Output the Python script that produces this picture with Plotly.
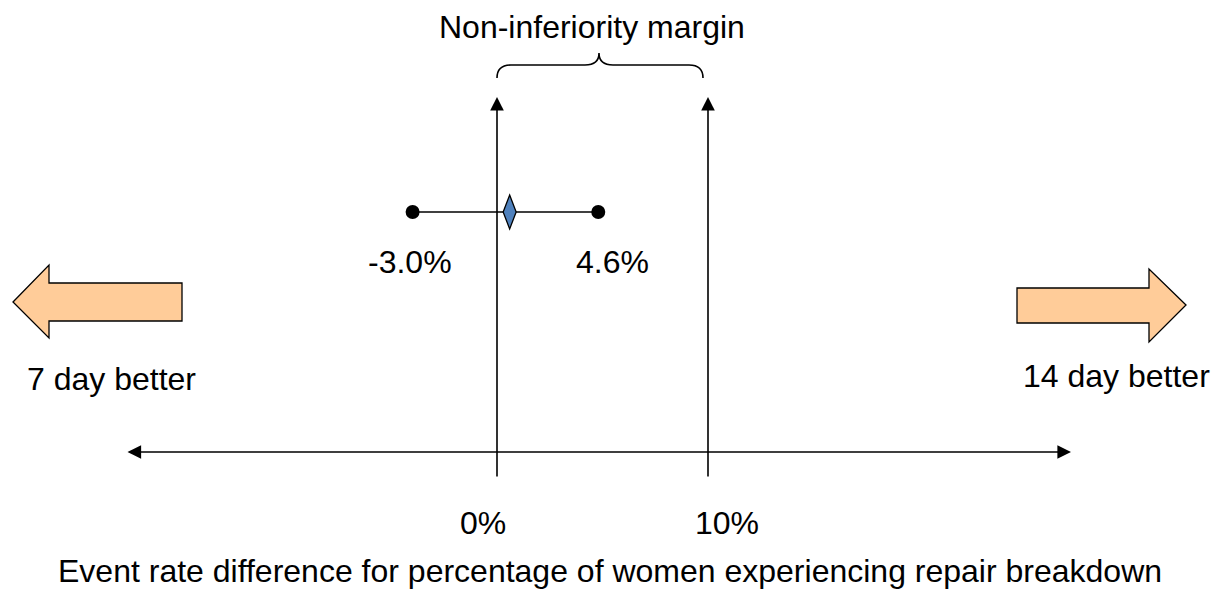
import plotly.graph_objects as go

# ---- data ----
estimate = [0.6]            # point estimate (diamond), % difference
ci_bounds = [-4.0, 4.8]     # CI end points as drawn
ci_labels = ["-3.0%", "4.6%"]
ref_lines = [0, 10]         # 0% and non-inferiority margin 10%
ref_labels = ["0%", "10%"]
title_margin = "Non-inferiority margin"
side_labels = ["7 day better", "14 day better"]
axis_title = "Event rate difference for percentage of women experiencing repair breakdown"

# ---- geometry helpers (screen pixel -> percent units) ----
W, H = 1213, 589
X0_PX, PX_PER = 497, 21.1
def xr(px):
    return (px - X0_PX) / PX_PER
def xp(v):
    return X0_PX + v * PX_PER

FONT = "Liberation Sans, Arial, sans-serif"
FS = 32

fig = go.Figure()

# CI line + dots
fig.add_trace(go.Scatter(x=ci_bounds, y=[212, 212], mode="lines+markers",
                         line=dict(color="black", width=1.5),
                         marker=dict(color="black", size=14), hoverinfo="skip"))

shapes = []
annotations = []

# diamond
cx = xp(estimate[0])
shapes.append(dict(type="path", xref="x", yref="y",
                   path=f"M {xr(cx)},{195} L {xr(cx+6.5)},{212} L {xr(cx)},{229} L {xr(cx-6.5)},{212} Z",
                   fillcolor="#4F81BD", line=dict(color="black", width=1.3)))

# vertical reference arrows
for v in ref_lines:
    annotations.append(dict(x=v, y=97, ax=v, ay=478, xref="x", yref="y", axref="x", ayref="y",
                            showarrow=True, arrowhead=2, arrowsize=1.7, arrowwidth=1.6,
                            arrowcolor="black", text=""))

# horizontal axis double arrow
annotations.append(dict(x=xr(1071), y=452, ax=xr(126), ay=452, xref="x", yref="y", axref="x", ayref="y",
                        showarrow=True, arrowhead=2, startarrowhead=2, arrowside="end+start",
                        arrowsize=1.7, startarrowsize=1.7, arrowwidth=1.6, arrowcolor="black", text=""))

# brace
b0, b1, bm = 497, 703, 599
brace = (f"M {xr(b0)},78 Q {xr(b0)},65 {xr(b0+14)},65 L {xr(bm-14)},65 "
         f"Q {xr(bm)},65 {xr(bm)},53 Q {xr(bm)},65 {xr(bm+14)},65 "
         f"L {xr(b1-14)},65 Q {xr(b1)},65 {xr(b1)},78")
shapes.append(dict(type="path", xref="x", yref="y", path=brace, line=dict(color="black", width=1.6)))

# block arrows
la = (f"M {xr(13)},302 L {xr(49)},265 L {xr(49)},283 L {xr(182)},283 L {xr(182)},321 "
      f"L {xr(49)},321 L {xr(49)},338 Z")
ra = (f"M {xr(1186)},305 L {xr(1149)},269 L {xr(1149)},288 L {xr(1017)},288 L {xr(1017)},323 "
      f"L {xr(1149)},323 L {xr(1149)},342 Z")
for p in (la, ra):
    shapes.append(dict(type="path", xref="x", yref="y", path=p,
                       fillcolor="#FFCC99", line=dict(color="black", width=1.3)))

def txt(x, y, t):
    annotations.append(dict(x=x, y=y, xref="x", yref="y", text=t, showarrow=False,
                            font=dict(family=FONT, size=FS, color="black"),
                            xanchor="center", yanchor="middle"))

txt(xr(592), 27, title_margin)
txt(xr(410), 262, ci_labels[0])
txt(xr(612), 262, ci_labels[1])
txt(xr(111), 379, side_labels[0])
txt(xr(1116), 376, side_labels[1])
txt(xr(483), 523, ref_labels[0])
txt(xr(727), 523, ref_labels[1])
txt(xr(610), 571, axis_title)

fig.update_layout(width=W, height=H, margin=dict(l=0, r=0, t=0, b=0),
                  paper_bgcolor="white", plot_bgcolor="white", showlegend=False,
                  shapes=shapes, annotations=annotations,
                  xaxis=dict(range=[xr(0), xr(W)], visible=False, fixedrange=True),
                  yaxis=dict(range=[H, 0], visible=False, fixedrange=True))

fig.write_html("out.html", config={"displayModeBar": False},
               post_script="document.body.style.margin='0px';document.body.style.overflow='hidden';")
